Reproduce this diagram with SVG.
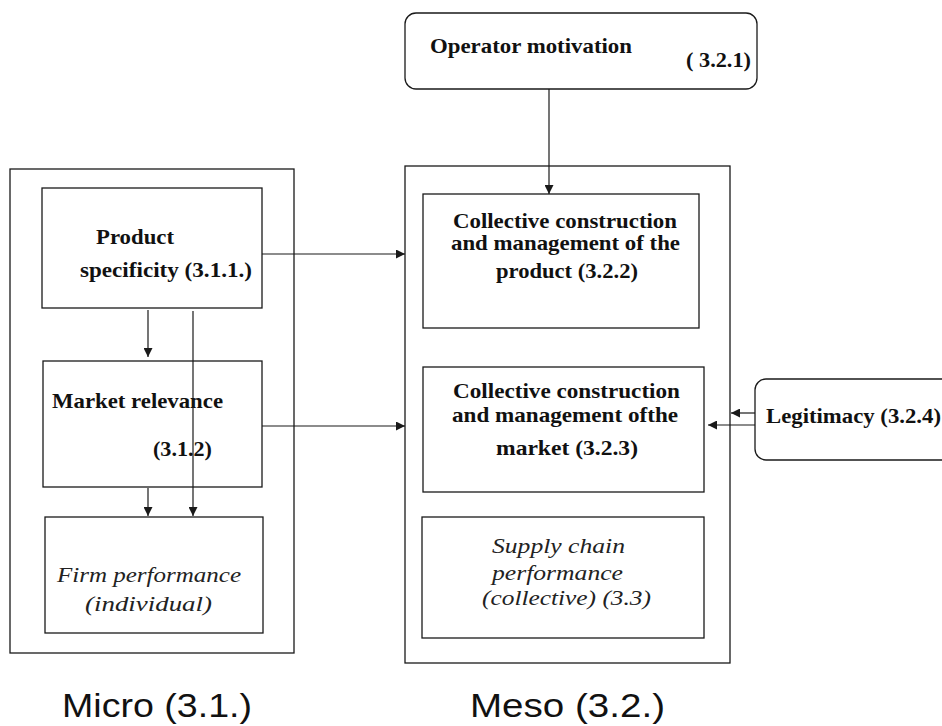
<svg xmlns="http://www.w3.org/2000/svg" width="942" height="726" viewBox="0 0 942 726">
<style>
.box{fill:#fff;stroke:#1a1a1a;stroke-width:1.3}
.b{font-family:"Liberation Serif","Times New Roman",serif;font-weight:bold;font-size:21px;fill:#111}
.i{font-family:"Liberation Serif","Times New Roman",serif;font-style:italic;font-size:22px;fill:#222}
.h{font-family:"Liberation Sans",Arial,sans-serif;font-size:33px;fill:#111}
.c{stroke:#1a1a1a;stroke-width:1.2;fill:none;marker-end:url(#ah)}
</style>
<defs>
<marker id="ah" viewBox="0 0 10 10" refX="10" refY="5" markerWidth="10" markerHeight="9" markerUnits="userSpaceOnUse" orient="auto">
<path d="M0,0 L10,5 L0,10 z" fill="#1a1a1a"/>
</marker>
</defs>
<rect width="942" height="726" fill="#fff"/>

<g id="micro">
<rect class="box" x="10" y="169" width="284" height="484"/>
<text class="h" x="62" y="717" textLength="190" lengthAdjust="spacingAndGlyphs">Micro (3.1.)</text>
</g>
<g id="meso">
<rect class="box" x="405" y="166" width="325" height="497"/>
<text class="h" x="470" y="717" textLength="195" lengthAdjust="spacingAndGlyphs">Meso (3.2.)</text>
</g>

<g id="operator">
<rect class="box" x="405" y="13" width="352" height="76" rx="11"/>
<text class="b" x="430" y="53" textLength="202" lengthAdjust="spacingAndGlyphs">Operator motivation</text>
<text class="b" x="686" y="67" textLength="65" lengthAdjust="spacingAndGlyphs">( 3.2.1)</text>
</g>

<g id="legitimacy">
<rect class="box" x="755" y="379" width="220" height="81" rx="11"/>
<text class="b" x="766" y="423" textLength="175" lengthAdjust="spacingAndGlyphs">Legitimacy (3.2.4)</text>
</g>

<g id="product">
<rect class="box" x="42" y="188" width="220" height="120"/>
<text class="b" x="96" y="244" textLength="78" lengthAdjust="spacingAndGlyphs">Product</text>
<text class="b" x="80" y="277" textLength="172" lengthAdjust="spacingAndGlyphs">specificity  (3.1.1.)</text>
</g>

<g id="market">
<rect class="box" x="43" y="361" width="219" height="126"/>
<text class="b" x="52" y="408" textLength="171" lengthAdjust="spacingAndGlyphs">Market relevance</text>
<text class="b" x="153" y="456" textLength="59" lengthAdjust="spacingAndGlyphs">(3.1.2)</text>
</g>

<g id="firm">
<rect class="box" x="45" y="517" width="218" height="116"/>
<text class="i" x="57" y="582" textLength="184" lengthAdjust="spacingAndGlyphs">Firm performance</text>
<text class="i" x="85" y="611" textLength="127" lengthAdjust="spacingAndGlyphs">(individual)</text>
</g>

<g id="coll-product">
<rect class="box" x="423" y="194" width="276" height="134"/>
<text class="b" x="453" y="228" textLength="224" lengthAdjust="spacingAndGlyphs">Collective construction</text>
<text class="b" x="451" y="250" textLength="229" lengthAdjust="spacingAndGlyphs">and management of the</text>
<text class="b" x="496" y="278" textLength="142" lengthAdjust="spacingAndGlyphs">product (3.2.2)</text>
</g>

<g id="coll-market">
<rect class="box" x="423" y="367" width="281" height="125"/>
<text class="b" x="453" y="398" textLength="227" lengthAdjust="spacingAndGlyphs">Collective construction</text>
<text class="b" x="452" y="422" textLength="226" lengthAdjust="spacingAndGlyphs">and management ofthe</text>
<text class="b" x="496" y="455" textLength="142" lengthAdjust="spacingAndGlyphs">market (3.2.3)</text>
</g>

<g id="supply">
<rect class="box" x="422" y="517" width="282" height="121"/>
<text class="i" x="492" y="553" textLength="133" lengthAdjust="spacingAndGlyphs">Supply chain</text>
<text class="i" x="492" y="580" textLength="131" lengthAdjust="spacingAndGlyphs">performance</text>
<text class="i" x="482" y="605" textLength="169" lengthAdjust="spacingAndGlyphs">(collective) (3.3)</text>
</g>

<g id="connectors">
<line class="c" x1="549" y1="89" x2="549" y2="194"/>
<line class="c" x1="262" y1="254" x2="405" y2="254"/>
<line class="c" x1="262" y1="426" x2="405" y2="426"/>
<line class="c" x1="148" y1="310" x2="148" y2="357"/>
<line class="c" x1="193" y1="311" x2="193" y2="516"/>
<line class="c" x1="148" y1="488" x2="148" y2="516"/>
<line class="c" x1="755" y1="413" x2="731" y2="413"/>
<line class="c" x1="755" y1="425" x2="708" y2="425"/>
</g>
</svg>
